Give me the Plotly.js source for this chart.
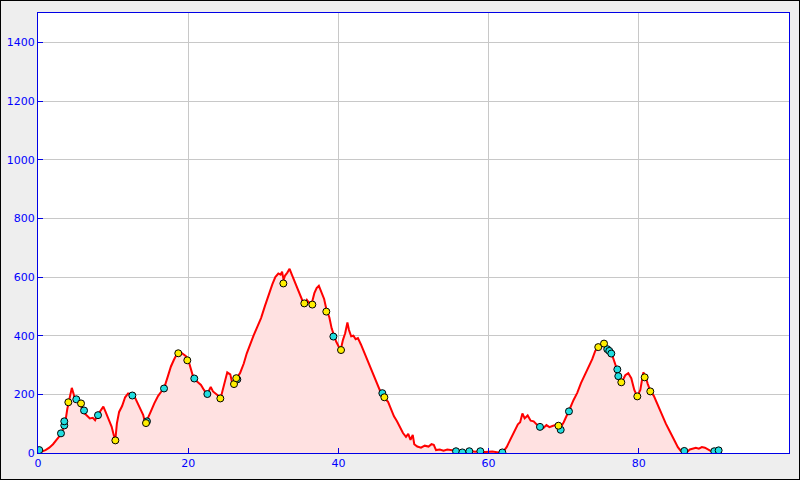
<!DOCTYPE html>
<html>
<head>
<meta charset="utf-8">
<script src="https://cdn.plot.ly/plotly-3.0.1.min.js"></script>
<style>
html,body{margin:0;padding:0;background:#eeeeee;}
#chart{width:798px;height:478px;border:1px solid #000;}
</style>
</head>
<body>
<div id="chart"></div>
<script>
// Elevation profile: distance (km) and elevation (m)
const distKm = [0,0.5,1.0,1.5,2.0,2.5,3.0,3.3,3.6,3.9,4.1,4.3,4.5,4.7,4.9,5.2,5.6,5.9,6.2,6.5,6.9,7.3,7.6,7.9,8.3,8.7,9.0,9.4,9.8,10.1,10.3,10.5,10.8,11.2,11.6,12.0,12.5,12.9,13.3,13.7,14.0,14.3,14.6,15.0,15.5,16.0,16.5,16.9,17.3,17.7,18.1,18.5,18.9,19.3,19.7,20.0,20.3,20.6,20.9,21.3,21.7,22.1,22.5,22.8,23.0,23.3,23.7,24.0,24.3,24.6,25.0,25.2,25.6,25.9,26.2,26.5,26.9,27.4,27.8,28.2,28.7,29.2,29.7,30.2,30.7,31.2,31.6,32.0,32.3,32.5,32.7,32.9,33.2,33.5,33.8,34.1,34.5,34.8,35.2,35.5,35.8,36.1,36.5,36.8,37.1,37.4,37.7,38.1,38.4,38.8,39.1,39.4,39.7,40.0,40.3,40.6,40.9,41.2,41.4,41.7,42.0,42.3,42.6,43.0,43.5,44.0,44.5,45.0,45.5,45.9,46.2,46.6,47.0,47.4,47.8,48.2,48.6,49.0,49.3,49.6,49.9,50.1,50.5,51.0,51.5,52.0,52.4,52.7,53.0,53.5,54.0,54.5,55.0,55.6,56.5,57.4,58.2,58.9,59.5,60.5,61.3,61.9,62.4,62.9,63.4,63.9,64.2,64.5,64.8,65.2,65.6,66.0,66.5,66.9,67.3,67.7,68.1,68.5,68.9,69.3,69.6,70.0,70.4,70.8,71.3,71.8,72.3,72.8,73.3,73.8,74.2,74.6,75.0,75.4,75.8,76.2,76.5,76.8,77.1,77.4,77.8,78.2,78.6,79.0,79.4,79.8,80.2,80.6,80.9,81.2,81.6,82.0,82.4,82.8,83.2,83.6,84.0,84.4,84.8,85.2,85.6,86.1,86.5,86.8,87.2,87.6,88.0,88.4,88.8,89.3,89.8,90.2,90.6];
const elevM = [5,5,10,18,30,45,62,80,100,150,175,195,222,205,185,178,168,150,135,128,118,120,112,128,145,158,140,115,90,60,45,100,140,160,190,203,198,190,170,150,130,100,115,140,170,195,212,230,262,295,318,338,345,338,330,318,290,265,250,240,232,215,200,215,225,210,202,195,185,215,262,275,268,235,238,258,272,305,340,368,400,430,460,500,540,575,600,612,608,618,590,605,615,628,608,588,568,545,520,508,522,512,515,545,562,570,550,525,490,462,425,398,380,365,350,385,408,445,420,398,400,388,392,370,340,305,275,250,215,200,185,175,148,125,108,85,68,55,65,45,62,30,22,18,25,22,30,28,10,12,8,12,9,8,4,8,4,7,3,5,2,3,20,45,72,98,105,135,118,128,110,108,95,90,85,95,88,92,95,92,88,105,125,150,180,205,238,265,295,320,348,362,370,372,355,345,330,305,285,250,245,265,272,255,215,193,215,275,260,235,208,195,170,150,125,100,80,62,40,20,7,5,5,12,15,18,15,20,18,10,4,7,9];

// Yellow waypoints
const yellowX = [4.04,5.73,10.3,14.38,18.68,19.88,24.28,26.1,26.4,32.67,35.46,36.53,38.39,40.35,46.12,69.3,74.6,75.37,77.67,79.8,80.78,81.53];
const yellowY = [173,169,43,102,340,316,186,235,255,578,510,506,482,351,190,93,361,373,241,193,258,210];

// Cyan waypoints
const cyanX = [0.17,3.06,3.5,3.5,5.1,6.13,7.99,12.56,14.51,16.78,20.81,22.55,26.54,39.33,45.85,55.66,56.5,57.43,58.9,61.83,66.84,69.6,70.7,75.8,76.07,76.34,77.14,77.27,86.06,90.05,90.63];
const cyanY = [10,67,94,108,183,145,129,196,108,220,254,201,251,397,204,6,2,6,6,2,89,79,142,354,348,339,285,262,7,6,9];

const xTicks = [0,20,40,60,80,100];
const yTicks = [0,200,400,600,800,1000,1200,1400];

const blue = '#0000e6';
const tickFont = {family:'DejaVu Sans', size:11, color:'#0000ff'};

const traces = [
  {x:distKm, y:elevM, type:'scatter', mode:'lines', fill:'tozeroy',
   fillcolor:'#ffe1e1', line:{color:'#ff0000', width:2}, hoverinfo:'skip'},
  {x:cyanX, y:cyanY, type:'scatter', mode:'markers',
   marker:{color:'#22dde0', size:7, line:{color:'#000', width:1}}},
  {x:yellowX, y:yellowY, type:'scatter', mode:'markers',
   marker:{color:'#ffee00', size:7, line:{color:'#000', width:1}}}
];

const layout = {
  width:798, height:478,
  margin:{l:37, r:10, t:12, b:26},
  paper_bgcolor:'#eeeeee', plot_bgcolor:'#ffffff',
  showlegend:false,
  font:{family:'DejaVu Sans', size:11},
  xaxis:{range:[0,100], tickvals:xTicks, ticktext:xTicks.map(String),
    showgrid:true, gridcolor:'#c8c8c8', gridwidth:1, zeroline:false,
    showline:true, linecolor:blue, linewidth:1, mirror:true,
    ticks:'inside', ticklen:5, tickcolor:blue, tickfont:tickFont},
  yaxis:{range:[0,1500], tickvals:yTicks, ticktext:yTicks.map(String),
    showgrid:true, gridcolor:'#c8c8c8', gridwidth:1, zeroline:false,
    showline:true, linecolor:blue, linewidth:1, mirror:true,
    ticks:'inside', ticklen:5, tickcolor:blue, tickfont:tickFont}
};

Plotly.newPlot('chart', traces, layout, {displayModeBar:false, staticPlot:true});
</script>
</body>
</html>
